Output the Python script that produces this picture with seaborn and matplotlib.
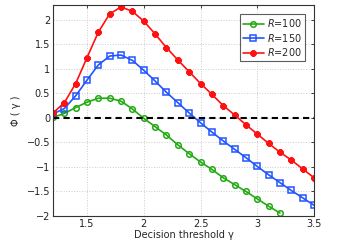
import numpy as np
import pandas as pd
import matplotlib
matplotlib.use("Agg")
import matplotlib.pyplot as plt
import seaborn as sns

gamma_100 = [1.2, 1.3, 1.4, 1.5, 1.6, 1.7, 1.8, 1.9, 2.0, 2.1, 2.2, 2.3, 2.4, 2.5, 2.6, 2.7, 2.8, 2.9, 3.0, 3.1, 3.2]
phi_100 = [0.01, 0.09, 0.21, 0.32, 0.40, 0.40, 0.34, 0.18, -0.01, -0.18, -0.35, -0.55, -0.73, -0.90, -1.05, -1.22, -1.36, -1.50, -1.65, -1.80, -1.94]

gamma_150 = [1.2, 1.3, 1.4, 1.5, 1.6, 1.7, 1.8, 1.9, 2.0, 2.1, 2.2, 2.3, 2.4, 2.5, 2.6, 2.7, 2.8, 2.9, 3.0, 3.1, 3.2, 3.3, 3.4, 3.5]
phi_150 = [0.08, 0.19, 0.45, 0.77, 1.08, 1.26, 1.28, 1.17, 0.97, 0.75, 0.52, 0.31, 0.10, -0.10, -0.29, -0.47, -0.64, -0.81, -0.99, -1.16, -1.32, -1.48, -1.63, -1.78]

gamma_200 = gamma_150
phi_200 = [0.10, 0.31, 0.70, 1.23, 1.75, 2.12, 2.26, 2.17, 1.97, 1.71, 1.43, 1.18, 0.94, 0.70, 0.48, 0.25, 0.06, -0.14, -0.33, -0.52, -0.70, -0.86, -1.04, -1.22]

labels = ["$\\it{R}$=100", "$\\it{R}$=150", "$\\it{R}$=200"]
colors = ["#22aa11", "#2255ff", "#ff1111"]
markers = ["o", "s", (8, 2, 0)]

df = pd.concat([
    pd.DataFrame({"gamma": gamma_100, "phi": phi_100, "series": labels[0]}),
    pd.DataFrame({"gamma": gamma_150, "phi": phi_150, "series": labels[1]}),
    pd.DataFrame({"gamma": gamma_200, "phi": phi_200, "series": labels[2]}),
])

sns.set_theme(style="white")
plt.rcParams['font.family'] = ['DejaVu Sans']
plt.rcParams['mathtext.default'] = 'regular'

fig = plt.figure(figsize=(3.41, 2.41), dpi=100)
ax = fig.add_axes([53/341, 1 - 216/241, (314 - 53)/341, (216 - 5)/241])

for lab, col, mk in zip(labels, colors, markers):
    sub = df[df["series"] == lab]
    if lab == labels[2]:
        kw = dict(markerfacecolor=col, markeredgewidth=1.5, markersize=4.5)
    else:
        kw = dict(markerfacecolor="none", markeredgewidth=1.1, markersize=4)
    sns.lineplot(data=sub, x="gamma", y="phi", ax=ax, color=col, marker=mk,
                 linewidth=1.2, label=lab, markeredgecolor=col, **kw)

ax.axhline(0, color="black", linestyle="--", linewidth=1.5, dashes=(3, 2))

ax.set_xlim(1.2, 3.5)
ax.set_ylim(-2, 2.3)
ax.set_xticks([1.5, 2, 2.5, 3, 3.5])
ax.set_xticklabels(["1.5", "2", "2.5", "3", "3.5"])
ax.set_yticks([-2, -1.5, -1, -0.5, 0, 0.5, 1, 1.5, 2])
ax.set_yticklabels(["\u22122", "\u22121.5", "\u22121", "\u22120.5", "0", "0.5", "1", "1.5", "2"])
ax.tick_params(axis="both", labelsize=7, direction="in", length=2, width=0.6,
               top=True, right=True, pad=2, colors="#222222")
ax.grid(True, linestyle=":", color="#cccccc", linewidth=0.7)
for s in ax.spines.values():
    s.set_color("#333333")
    s.set_linewidth(0.8)

ax.set_xlabel("Decision threshold \u03b3", fontsize=7, labelpad=1)
ax.set_ylabel("\u03a6 ( \u03b3 )", fontsize=7, labelpad=4)

leg = ax.legend(loc="upper right", bbox_to_anchor=(0.965, 0.955), fontsize=7,
                frameon=True, fancybox=False, edgecolor="#333333",
                handlelength=2.2, borderpad=0.3, labelspacing=0.25, handletextpad=0.3,
                borderaxespad=0)
leg.get_frame().set_linewidth(0.8)

fig.savefig("out.png", dpi=100)
